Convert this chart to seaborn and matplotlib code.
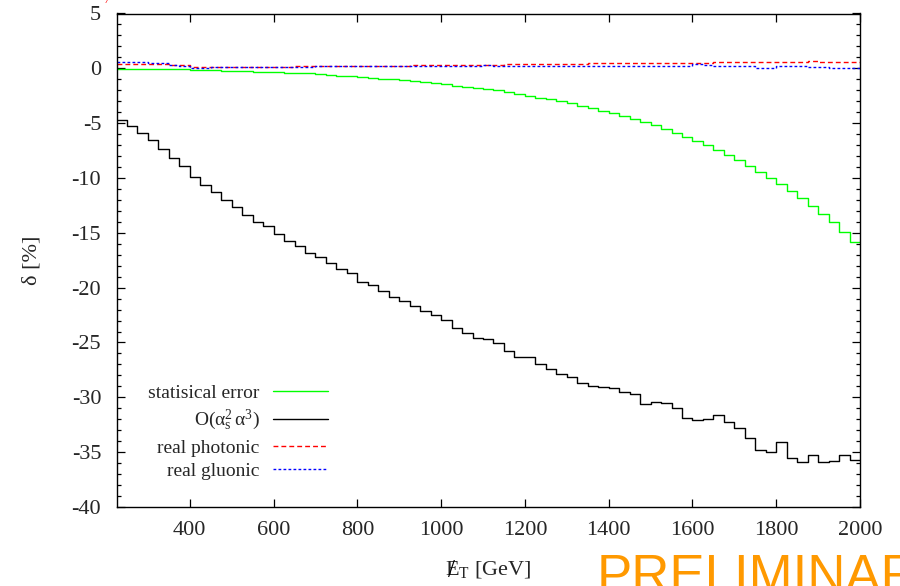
import numpy as np
import pandas as pd
import matplotlib
matplotlib.use("Agg")
import matplotlib.pyplot as plt
import seaborn as sns

# ---- data (25 GeV bins from 225 to 2000 GeV) ----
bin_edges = np.arange(225, 2001, 25)

stat_error = [-0.05, -0.05, -0.05, -0.06, -0.07, -0.08, -0.10, -0.11, -0.13, -0.17,
              -0.20, -0.22, -0.25, -0.29, -0.32, -0.36, -0.39, -0.43, -0.47, -0.56,
              -0.62, -0.68, -0.74, -0.80, -0.90, -0.95, -0.99, -1.06, -1.12, -1.23,
              -1.35, -1.47, -1.59, -1.67, -1.75, -1.88, -2.02, -2.20, -2.35, -2.50,
              -2.66, -2.81, -3.02, -3.20, -3.39, -3.63, -3.87, -4.11, -4.36, -4.60,
              -4.93, -5.20, -5.54, -5.90, -6.27, -6.63, -7.03, -7.45, -7.91, -8.40,
              -8.88, -9.43, -9.97, -10.58, -11.18, -11.86, -12.58, -13.31, -14.04, -14.89,
              -15.80]

ew_corr = [-4.69, -5.30, -5.90, -6.54, -7.33, -8.15, -8.90, -9.90, -10.67, -11.25,
           -11.98, -12.60, -13.34, -14.00, -14.37, -15.07, -15.74, -16.23, -16.80, -17.23,
           -17.78, -18.26, -18.69, -19.50, -19.78, -20.33, -20.84, -21.24, -21.66, -22.15,
           -22.48, -22.93, -23.72, -24.12, -24.58, -24.64, -25.09, -25.79, -26.28, -26.28,
           -26.97, -27.46, -27.91, -28.16, -28.71, -28.98, -29.04, -29.13, -29.55, -29.74,
           -30.65, -30.44, -30.53, -31.01, -31.86, -32.07, -31.95, -31.58, -32.29, -32.80,
           -33.71, -34.84, -34.99, -34.08, -35.54, -35.90, -35.26, -35.90, -35.84, -35.23,
           -35.75]

real_photonic = [0.41, 0.43, 0.40, 0.38, 0.35, 0.32, 0.30,
                 0.08, 0.09, 0.10, 0.10, 0.11, 0.12, 0.12, 0.13, 0.14, 0.15, 0.17,
                 0.18, 0.19, 0.20, 0.20, 0.21, 0.22, 0.22, 0.23, 0.24, 0.25, 0.26, 0.27,
                 0.28, 0.29, 0.30, 0.31, 0.32,
                 0.33, 0.34, 0.35, 0.36, 0.37, 0.38, 0.39, 0.40, 0.41, 0.43, 0.45,
                 0.47, 0.47, 0.48, 0.49, 0.50, 0.50, 0.51, 0.52, 0.52, 0.53, 0.53, 0.54,
                 0.55, 0.55, 0.56, 0.56, 0.57, 0.58, 0.58, 0.60, 0.68, 0.62, 0.60, 0.62,
                 0.62]

real_gluonic = [0.55, 0.60, 0.58, 0.52, 0.45, 0.30, 0.25,
                0.04, 0.06, 0.08, 0.10, 0.10, 0.11, 0.12, 0.12, 0.13, 0.13, 0.14,
                0.16, 0.17, 0.17, 0.18, 0.18, 0.19, 0.20, 0.20, 0.19, 0.20, 0.21, 0.20,
                0.22, 0.21, 0.20, 0.21, 0.22,
                0.26, 0.24, 0.22, 0.20, 0.17, 0.17, 0.18, 0.17, 0.20, 0.18, 0.22, 0.20,
                0.17, 0.18, 0.17, 0.20, 0.18, 0.17, 0.20, 0.19,
                0.38, 0.30, 0.20, 0.17, 0.17, 0.17, 0.03, 0.03, 0.17, 0.20, 0.17, 0.15,
                0.10, 0.05, 0.05, 0.05]

series_labels = ["statisical error", r"O($\mathrm{\alpha_s^2\,\alpha^3}$)",
                 "real photonic", "real gluonic"]
series_values = [stat_error, ew_corr, real_photonic, real_gluonic]
series_colors = ["#00ff00", "#000000", "#ff0000", "#0000ff"]
series_dashes = ["", "", (3.5, 2.2), (2.0, 1.6)]

x_ticks = [400, 600, 800, 1000, 1200, 1400, 1600, 1800, 2000]
y_ticks = [5, 0, -5, -10, -15, -20, -25, -30, -35, -40]

# ---- long-form table ----
frames = []
for lab, vals in zip(series_labels, series_values):
    y = list(vals) + [vals[-1]]
    frames.append(pd.DataFrame({"E": bin_edges, "delta": y, "series": lab}))
df = pd.concat(frames, ignore_index=True)

# ---- style ----
sns.set_style("ticks")
plt.rcParams["font.family"] = ["Liberation Serif", "DejaVu Serif"]
plt.rcParams["mathtext.fontset"] = "custom"
plt.rcParams["mathtext.rm"] = "Liberation Serif"
plt.rcParams["mathtext.it"] = "Liberation Serif:italic"
plt.rcParams["axes.unicode_minus"] = False

fig = plt.figure(figsize=(9.0, 5.86), dpi=100)
ax = fig.add_axes([116.5 / 900, 1 - 507 / 586, (860 - 116.5) / 900, (507 - 13.5) / 586])

sns.lineplot(data=df, x="E", y="delta", hue="series", style="series",
             hue_order=series_labels, style_order=series_labels,
             palette=dict(zip(series_labels, series_colors)),
             dashes=dict(zip(series_labels, series_dashes)),
             drawstyle="steps-post", estimator=None, linewidth=1.0,
             ax=ax, legend=True)

ax.set_xlim(225, 2000)
ax.set_ylim(-40, 5)
ax.set_xticks(x_ticks)
ax.set_yticks(y_ticks)
ax.set_yticks(np.arange(-40, 6, 1), minor=True)
ax.tick_params(axis="both", which="both", direction="in", top=True, right=True,
               labelsize=16, color="black", width=0.9)
ax.tick_params(axis="both", which="major", length=6)
ax.tick_params(axis="both", which="minor", length=2.6)
ax.tick_params(axis="x", pad=10)
ax.tick_params(axis="y", pad=11)
for sp in ax.spines.values():
    sp.set_linewidth(1.0)
    sp.set_color("black")

ax.set_xlabel("E$_\\mathrm{T}$ [GeV]", fontsize=16, labelpad=14)
ax.set_ylabel("δ [%]", fontsize=16, labelpad=22)

handles, labels = ax.get_legend_handles_labels()
leg = ax.legend(handles, labels, loc="upper right", bbox_to_anchor=(0.2845, 0.248),
                frameon=False, markerfirst=False, fontsize=14, borderaxespad=0,
                borderpad=0, labelspacing=0.3, handlelength=2.85, handletextpad=0.67)

# slash through the E of the x label (missing transverse energy)
fig.canvas.draw()
bb = ax.xaxis.label.get_window_extent(fig.canvas.get_renderer())
cap_px = 0.662 * 16 * 100 / 72
baseline_px = bb.y1 - 1 - cap_px
fig.text((bb.x0 + 7.0) / 900, (baseline_px - 1.5) / 586, "/", fontsize=18,
         ha="center", va="baseline", color="black")

fig.text(597 / 900, -0.011, "PRELIMINARY", fontsize=38, color="#ff9900",
         family="Liberation Sans", ha="left", va="baseline")
fig.text(106 / 900, 1.0, "/", fontsize=9, color="red", ha="left", va="center",
         style="italic")

fig.savefig("out.png", dpi=100)
